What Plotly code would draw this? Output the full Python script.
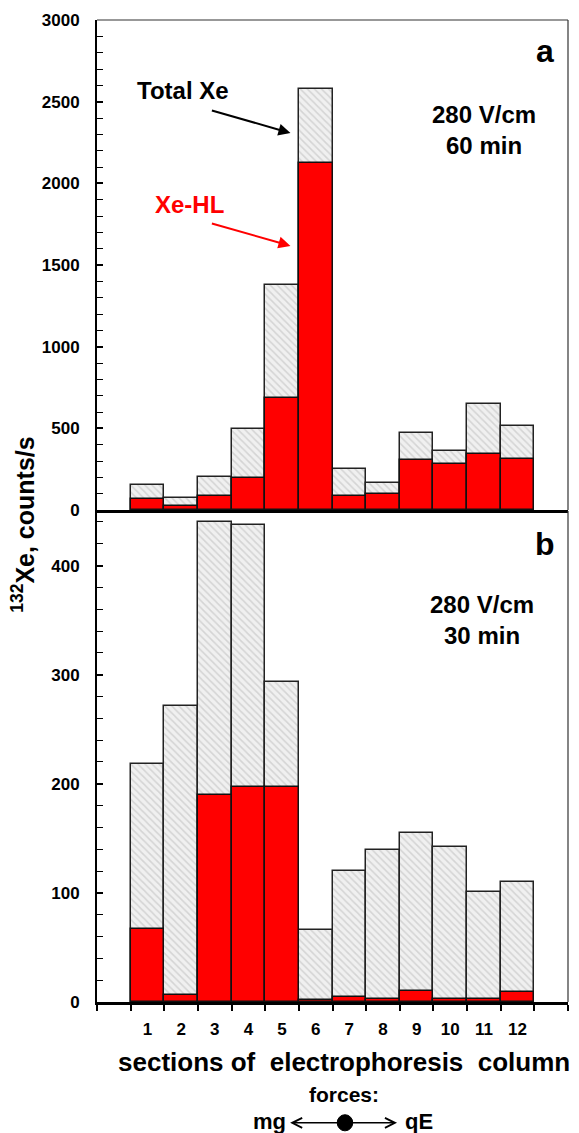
import plotly.graph_objects as go

# ---- data ----
sections = list(range(1, 13))
section_labels = [str(s) for s in sections]
total_60 = [153, 75, 205, 493, 1376, 2580, 251, 166, 472, 359, 649, 515]
hl_60 = [67, 24, 83, 199, 683, 2125, 83, 99, 304, 284, 341, 314]
total_30 = [218, 271, 440, 437, 293, 66, 120, 139, 155, 142, 101, 110]
hl_30 = [67, 6, 190, 197, 197, 2, 5, 3, 10, 3, 3, 9]
yticks_a = [0, 500, 1000, 1500, 2000, 2500, 3000]
yticks_b = [0, 100, 200, 300, 400]

FONT = "Liberation Sans, Arial, sans-serif"
RED = "#ff0000"
HATCH = dict(shape="\\", fgcolor="#b8b8b8", bgcolor="#f0f0f0", size=5, solidity=0.3)

fig = go.Figure()

def add_panel(xa, ya, total, hl):
    fig.add_trace(go.Bar(
        x=sections, y=total, width=1, xaxis=xa, yaxis=ya, name="Total Xe",
        marker=dict(color="#f0f0f0", pattern=HATCH, line=dict(color="#222", width=1.5)),
        showlegend=False, hoverinfo="x+y"))
    fig.add_trace(go.Bar(
        x=sections, y=hl, width=1, xaxis=xa, yaxis=ya, name="Xe-HL",
        marker=dict(color=RED, line=dict(color="#111", width=1.5)),
        showlegend=False, hoverinfo="x+y"))

add_panel("x", "y", total_60, hl_60)
add_panel("x2", "y2", total_30, hl_30)

tickfont = dict(family=FONT, size=17, color="black", weight="bold")

common_x = dict(range=[-0.5, 13.5], showgrid=False, zeroline=False,
                showline=True, linecolor="black", linewidth=2.5)
common_y = dict(showgrid=False, zeroline=False, showline=True, linecolor="black",
                linewidth=2, ticks="inside", ticklen=6, tickwidth=1.5, tickcolor="black",
                tickfont=tickfont, ticklabelstandoff=12)

fig.update_layout(
    width=579, height=1133,
    margin=dict(l=97, r=11, t=20, b=131),
    paper_bgcolor="white", plot_bgcolor="white",
    barmode="overlay", bargap=0,
    font=dict(family=FONT, color="black"),
    xaxis=dict(domain=[0, 1], anchor="y", showticklabels=False, ticks="", **common_x),
    yaxis=dict(domain=[0.501, 1], anchor="x", range=[0, 3000], tickmode="array",
               tickvals=yticks_a,
               minor=dict(ticks="inside", dtick=100, tick0=0, ticklen=6, tickwidth=1.2,
                          tickcolor="black"),
               **common_y),
    xaxis2=dict(domain=[0, 1], anchor="y2", tickmode="array", tickvals=sections,
                ticktext=section_labels, ticks="", tickfont=tickfont,
                ticklabelstandoff=10,
                minor=dict(ticks="outside", tickmode="linear", tick0=0.5, dtick=1,
                           ticklen=6, tickwidth=1.5, tickcolor="black"),
                **common_x),
    yaxis2=dict(domain=[0, 0.5], anchor="x2", range=[0, 450], tickmode="array",
                tickvals=yticks_b,
                minor=dict(ticks="inside", dtick=20, tick0=0, ticklen=6, tickwidth=1.2,
                           tickcolor="black"),
                **common_y),
)

# frame lines (top and right)
shapes = [
    dict(type="line", xref="x domain", yref="y domain", x0=0, x1=1, y0=1, y1=1,
         line=dict(color="#333", width=1.2)),
    dict(type="line", xref="x domain", yref="y domain", x0=1, x1=1, y0=0, y1=1,
         line=dict(color="#333", width=1.2)),
    dict(type="line", xref="x2 domain", yref="y2 domain", x0=1, x1=1, y0=0, y1=1,
         line=dict(color="#333", width=1.2)),
    # dot of the force diagram
    dict(type="circle", xref="paper", yref="paper", x0=0.5265 - 0.0165, x1=0.5265 + 0.0165,
         y0=-0.123 - 0.0082, y1=-0.123 + 0.0082, fillcolor="black", line=dict(color="black", width=1)),
]
fig.update_layout(shapes=shapes)

C = dict(xanchor="center", yanchor="middle", showarrow=False)
ann = []
big = dict(family=FONT, size=24, color="black", weight="bold")
ann.append(dict(xref="x domain", yref="y domain", x=0.951, y=0.937, text="a",
                font=dict(family=FONT, size=32, color="black", weight="bold"), **C))
ann.append(dict(xref="x2 domain", yref="y2 domain", x=0.951, y=0.932, text="b",
                font=dict(family=FONT, size=32, color="black", weight="bold"), **C))
ann.append(dict(xref="x domain", yref="y domain", x=0.822, y=0.776, text="280 V/cm<br>60 min",
                font=big, **C))
ann.append(dict(xref="x2 domain", yref="y2 domain", x=0.818, y=0.778, text="280 V/cm<br>30 min",
                font=big, **C))
ann.append(dict(xref="x domain", yref="y domain", x=0.183, y=0.857, text="Total Xe",
                font=big, **C))
ann.append(dict(xref="x domain", yref="y domain", x=0.197, y=0.624, text="Xe-HL",
                font=dict(family=FONT, size=24, color=RED, weight="bold"), **C))
# pointer arrows
ann.append(dict(xref="x", yref="y", x=5.25, y=2308, axref="x", ayref="y", ax=2.87, ay=2449,
                text="", showarrow=True, arrowhead=2, arrowsize=1.2, arrowwidth=2,
                arrowcolor="black"))
ann.append(dict(xref="x", yref="y", x=5.25, y=1617, axref="x", ayref="y", ax=2.87, ay=1757,
                text="", showarrow=True, arrowhead=2, arrowsize=1.2, arrowwidth=2,
                arrowcolor=RED))
# axis titles
ann.append(dict(xref="paper", yref="paper", x=-0.157, y=0.486, textangle=-90,
                text="<sup>132</sup>Xe, counts/s",
                font=dict(family=FONT, size=25, color="black", weight="bold"), **C))
ann.append(dict(xref="paper", yref="paper", x=0.524, y=-0.0611,
                text="sections of&nbsp; electrophoresis&nbsp; column",
                font=dict(family=FONT, size=26, color="black", weight="bold"), **C))
ann.append(dict(xref="paper", yref="paper", x=0.524, y=-0.0947, text="forces:",
                font=dict(family=FONT, size=21, color="black", weight="bold"), **C))
ann.append(dict(xref="paper", yref="paper", x=0.367, y=-0.122, text="mg",
                font=dict(family=FONT, size=22, color="black", weight="bold"), **C))
ann.append(dict(xref="paper", yref="paper", x=0.684, y=-0.122, text="qE",
                font=dict(family=FONT, size=22, color="black", weight="bold"), **C))
ann.append(dict(xref="paper", yref="paper", x=0.410, y=-0.123, ax=55, ay=0, text="",
                showarrow=True, arrowhead=5, arrowsize=1.3, arrowwidth=1.5, arrowcolor="black"))
ann.append(dict(xref="paper", yref="paper", x=0.637, y=-0.123, ax=-52, ay=0, text="",
                showarrow=True, arrowhead=5, arrowsize=1.3, arrowwidth=1.5, arrowcolor="black"))
fig.update_layout(annotations=ann)

fig.write_html("out.html", config={"displayModeBar": False},
               post_script="document.body.style.margin='0';")
